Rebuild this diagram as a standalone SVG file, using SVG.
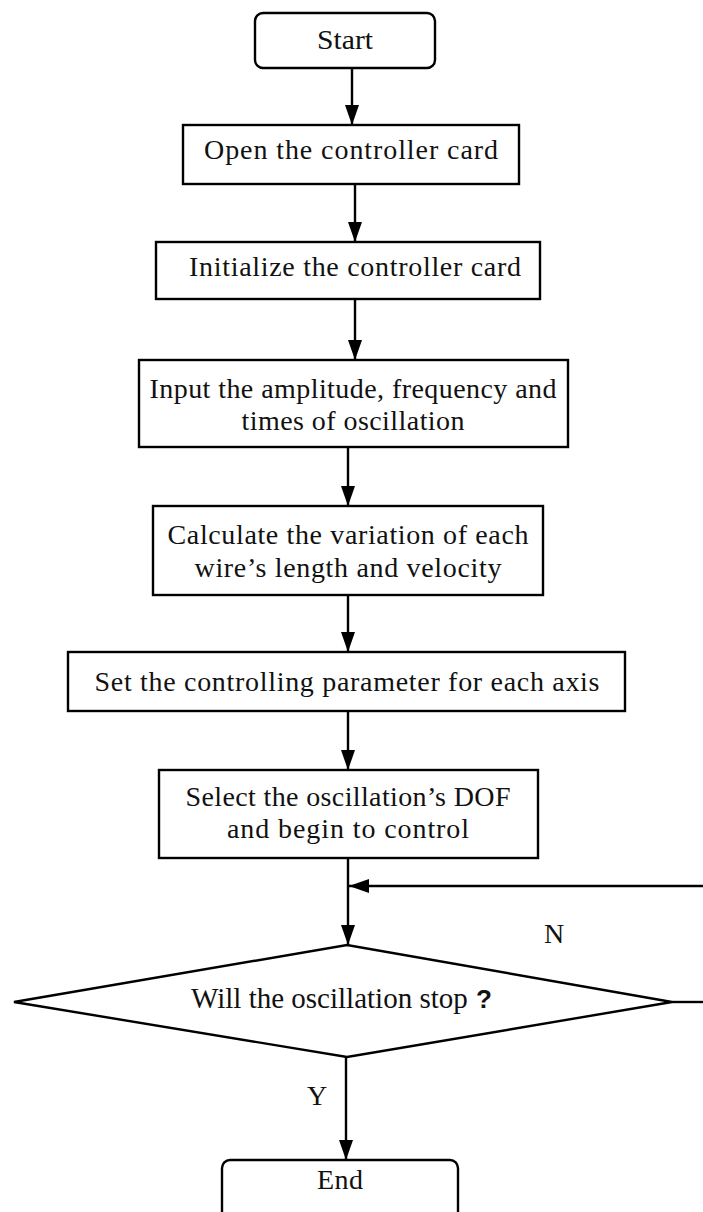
<svg xmlns="http://www.w3.org/2000/svg" width="703" height="1212" viewBox="0 0 703 1212">
  <defs>
    <marker id="arrow" markerWidth="20" markerHeight="14" refX="20" refY="7" orient="auto" markerUnits="userSpaceOnUse" viewBox="0 0 20 14">
      <path d="M0,0 L20,7 L0,14 Z" fill="#000"/>
    </marker>
    <style>
      .box { fill: #fff; stroke: #000; stroke-width: 2.4; }
      .edge { fill: none; stroke: #000; stroke-width: 2.4; marker-end: url(#arrow); }
      .line { fill: none; stroke: #000; stroke-width: 2.4; }
      .lbl { font-family: "Liberation Serif", "Times New Roman", serif; font-size: 28px; fill: #111; text-anchor: middle; }
      .q { font-family: "Liberation Sans", Arial, sans-serif; font-weight: bold; font-size: 26px; fill: #111; }
    </style>
  </defs>
  <rect width="703" height="1212" fill="#fff"/>

  <!-- connectors -->
  <g id="connectors">
    <line class="edge" x1="352" y1="68" x2="352" y2="125"/>
    <line class="edge" x1="355" y1="184" x2="355" y2="242"/>
    <line class="edge" x1="355" y1="299" x2="355" y2="360"/>
    <line class="edge" x1="348" y1="447" x2="348" y2="506"/>
    <line class="edge" x1="348" y1="595" x2="348" y2="652"/>
    <line class="edge" x1="348" y1="711" x2="348" y2="770"/>
    <line class="edge" x1="348" y1="858" x2="348" y2="945"/>
    <!-- loop back from the decision -->
    <line class="line" x1="672" y1="1002" x2="703" y2="1002"/>
    <line class="edge" x1="703" y1="886" x2="349" y2="886"/>
    <line class="edge" x1="346" y1="1057" x2="346" y2="1160"/>
    <text class="lbl" x="554" y="943">N</text>
    <text class="lbl" x="317" y="1105">Y</text>
  </g>

  <g id="start">
    <rect class="box" x="255" y="13" width="180" height="55" rx="8"/>
    <text class="lbl" x="345" y="49" textLength="56" lengthAdjust="spacingAndGlyphs">Start</text>
  </g>

  <g id="open-card">
    <rect class="box" x="183" y="125" width="336" height="59"/>
    <text class="lbl" x="351" y="159" textLength="294">Open the controller card</text>
  </g>

  <g id="init-card">
    <rect class="box" x="156" y="242" width="384" height="57"/>
    <text class="lbl" x="355" y="276" textLength="332">Initialize the controller card</text>
  </g>

  <g id="input-params">
    <rect class="box" x="139" y="360" width="429" height="87"/>
    <text class="lbl" x="353" y="398" textLength="407">Input the amplitude, frequency and</text>
    <text class="lbl" x="353" y="430" textLength="223">times of oscillation</text>
  </g>

  <g id="calc-variation">
    <rect class="box" x="153" y="506" width="390" height="89"/>
    <text class="lbl" x="348" y="544" textLength="361">Calculate the variation of each</text>
    <text class="lbl" x="348" y="577" textLength="307">wire’s length and velocity</text>
  </g>

  <g id="set-params">
    <rect class="box" x="68" y="652" width="557" height="59"/>
    <text class="lbl" x="347" y="691" textLength="505">Set the controlling parameter for each axis</text>
  </g>

  <g id="select-dof">
    <rect class="box" x="159" y="770" width="379" height="88"/>
    <text class="lbl" x="348" y="806" textLength="325">Select the oscillation’s DOF</text>
    <text class="lbl" x="348" y="838" textLength="242">and begin to control</text>
  </g>

  <g id="decision">
    <polygon class="box" points="14,1002 347,945 672,1002 347,1057"/>
    <text class="lbl" x="191" y="1008" style="text-anchor:start; font-size:29px">Will the oscillation stop</text>
    <text class="q" x="476" y="1008">?</text>
  </g>

  <g id="end">
    <rect class="box" x="222" y="1160" width="236" height="80" rx="8"/>
    <text class="lbl" x="340" y="1189" textLength="46">End</text>
  </g>
</svg>
